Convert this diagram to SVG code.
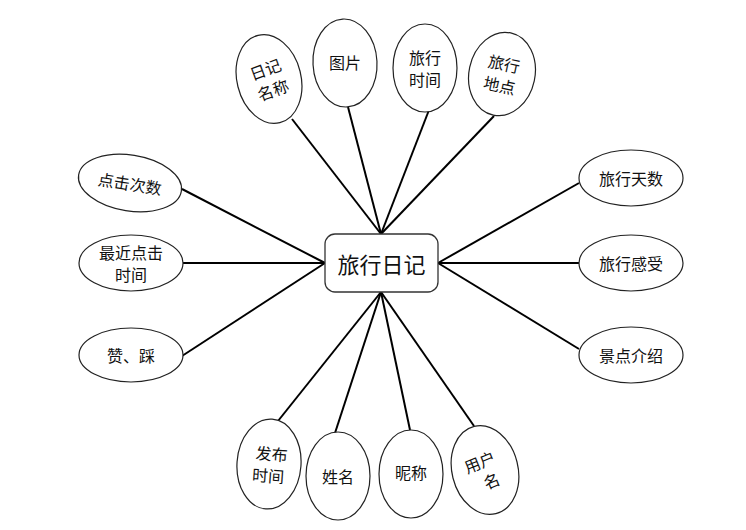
<svg xmlns="http://www.w3.org/2000/svg" width="746" height="530" viewBox="0 0 746 530">
<style>
.e{fill:#fff;stroke:#222;stroke-width:1.2}
.t{font-family:"Noto Sans CJK SC","Microsoft YaHei",sans-serif;font-size:16px;fill:#111;text-anchor:middle;dominant-baseline:central}
.c{stroke:#000;stroke-width:2;fill:none}
</style>
<rect width="746" height="530" fill="#fff"/>
<g id="connectors">
<line class="c" x1="292" y1="119" x2="381" y2="234"/>
<line class="c" x1="348" y1="107" x2="381" y2="234"/>
<line class="c" x1="429" y1="110" x2="381" y2="234"/>
<line class="c" x1="494" y1="116" x2="381" y2="234"/>
<line class="c" x1="182" y1="189" x2="325" y2="263"/>
<line class="c" x1="183" y1="263" x2="325" y2="263"/>
<line class="c" x1="182" y1="356" x2="325" y2="263"/>
<line class="c" x1="579" y1="183" x2="438" y2="263"/>
<line class="c" x1="579" y1="263" x2="438" y2="263"/>
<line class="c" x1="579" y1="349" x2="438" y2="263"/>
<line class="c" x1="278" y1="421" x2="381" y2="292"/>
<line class="c" x1="335" y1="433" x2="381" y2="292"/>
<line class="c" x1="410" y1="430" x2="381" y2="292"/>
<line class="c" x1="474" y1="426" x2="381" y2="292"/>
</g>
<g id="center">
<rect x="325" y="234" width="113" height="58" rx="10" fill="#fff" stroke="#333" stroke-width="1.3"/>
<text class="t" x="381.5" y="263" style="font-size:22px">旅行日记</text>
</g>
<g id="n-rijimingcheng" transform="rotate(-14 269 79)">
<ellipse class="e" cx="269" cy="79" rx="32" ry="45"/>
<text class="t" x="269" y="68" transform="rotate(-6 269 79)">日记</text>
<text class="t" x="269" y="90" transform="rotate(-6 269 79)">名称</text>
</g>
<g id="n-tupian">
<ellipse class="e" cx="345" cy="63" rx="32" ry="44" transform="rotate(-3 345 63)"/>
<text class="t" x="345" y="62">图片</text>
</g>
<g id="n-lvxingshijian">
<ellipse class="e" cx="425" cy="68" rx="32" ry="44"/>
<text class="t" x="425" y="57">旅行</text>
<text class="t" x="425" y="79">时间</text>
</g>
<g id="n-lvxingdidian" transform="rotate(12 502 74)">
<ellipse class="e" cx="502" cy="74" rx="33" ry="42"/>
<text class="t" x="502" y="63">旅行</text>
<text class="t" x="502" y="85">地点</text>
</g>
<g id="n-dianjicishu" transform="rotate(9 130 183)">
<ellipse class="e" cx="130" cy="183" rx="52" ry="28"/>
<text class="t" x="130" y="183">点击次数</text>
</g>
<g id="n-zuijindianji">
<ellipse class="e" cx="131" cy="263" rx="52" ry="28"/>
<text class="t" x="131" y="252">最近点击</text>
<text class="t" x="131" y="274">时间</text>
</g>
<g id="n-zancai">
<ellipse class="e" cx="131" cy="355" rx="52" ry="27"/>
<text class="t" x="131" y="355">赞、踩</text>
</g>
<g id="n-lvxingtianshu">
<ellipse class="e" cx="631" cy="178" rx="52" ry="28"/>
<text class="t" x="631" y="178">旅行天数</text>
</g>
<g id="n-lvxingganshou">
<ellipse class="e" cx="631" cy="263" rx="52" ry="28"/>
<text class="t" x="631" y="263">旅行感受</text>
</g>
<g id="n-jingdianjieshao">
<ellipse class="e" cx="631" cy="355" rx="52" ry="28"/>
<text class="t" x="631" y="355">景点介绍</text>
</g>
<g id="n-fabushijian" transform="rotate(4 269 464)">
<ellipse class="e" cx="269" cy="464" rx="32" ry="45"/>
<text class="t" x="271" y="453">发布</text>
<text class="t" x="269" y="475">时间</text>
</g>
<g id="n-xingming">
<ellipse class="e" cx="338" cy="476" rx="32" ry="44"/>
<text class="t" x="338" y="476">姓名</text>
</g>
<g id="n-nicheng">
<ellipse class="e" cx="411" cy="474" rx="32" ry="44"/>
<text class="t" x="411" y="472">昵称</text>
</g>
<g id="n-yonghuming" transform="rotate(-14 485 470)">
<ellipse class="e" cx="485" cy="470" rx="33" ry="45"/>
<text class="t" x="483" y="460" transform="rotate(-8 485 470)">用户</text>
<text class="t" x="487" y="482" transform="rotate(-8 485 470)">名</text>
</g>
</svg>
